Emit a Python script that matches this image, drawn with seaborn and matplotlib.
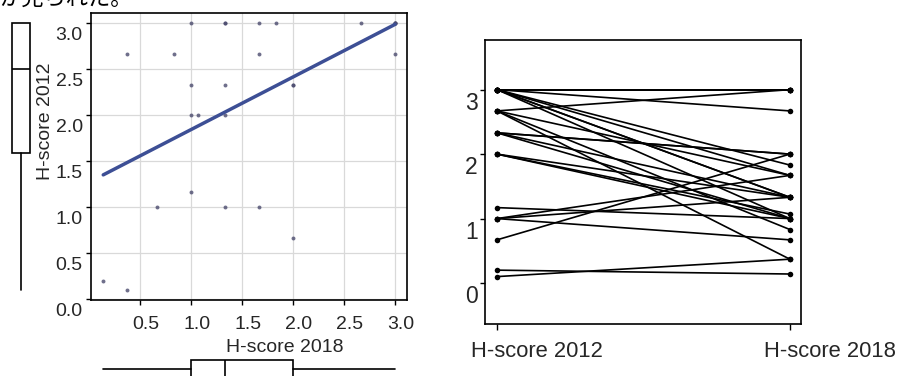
import numpy as np
import pandas as pd
import seaborn as sns
import matplotlib
matplotlib.use("Agg")
import matplotlib.pyplot as plt
from matplotlib.transforms import ScaledTranslation

# H-score pro Patient (gepaart): 2018 auf x, 2012 auf y
h2018 = [0.14, 0.37, 0.37, 0.67, 0.83, 1.0, 1.0, 1.0, 1.0, 1.07,
         1.33, 1.33, 1.33, 1.33, 1.33, 1.67, 1.67, 1.67, 1.83,
         2.0, 2.0, 2.0, 2.67, 3.0, 3.0, 3.0, 3.0, 3.0]
h2012 = [0.2, 0.1, 2.67, 1.0, 2.67, 3.0, 2.33, 2.0, 1.17, 2.0,
         3.0, 3.0, 2.33, 2.0, 1.0, 3.0, 2.67, 1.0, 3.0,
         2.33, 2.33, 0.67, 3.0, 3.0, 3.0, 3.0, 3.0, 2.67]
jahre = ["H-score 2012", "H-score 2018"]
xticks_links = [0.5, 1.0, 1.5, 2.0, 2.5, 3.0]
yticks_links = [0.0, 0.5, 1.0, 1.5, 2.0, 2.5, 3.0]
yticks_rechts = [0, 1, 2, 3]
satz_oben = "が見られた。"

sns.set_style("white")
plt.rcParams["font.family"] = ["Liberation Sans", "Noto Sans CJK JP", "DejaVu Sans"]

DPI = 100
W, H = 902, 376
fig = plt.figure(figsize=(W / DPI, H / DPI), dpi=DPI)


def px_axes(x0, y0, x1, y1):
    # Achsen in Pixelkoordinaten (oben links = 0,0)
    return fig.add_axes([x0 / W, 1 - y1 / H, (x1 - x0) / W, (y1 - y0) / H])


def verschieben(labels, dx, dy):
    off = ScaledTranslation(dx / DPI, -dy / DPI, fig.dpi_scale_trans)
    for lbl in labels:
        lbl.set_transform(lbl.get_transform() + off)


def tukey_stats(werte):
    v = np.sort(np.asarray(werte))
    n = len(v)
    q1 = np.median(v[:(n + 1) // 2])
    q3 = np.median(v[n // 2:])
    iqr = q3 - q1
    lo = v[v >= q1 - 1.5 * iqr].min()
    hi = v[v <= q3 + 1.5 * iqr].max()
    return dict(med=np.median(v), q1=q1, q3=q3, whislo=lo, whishi=hi, fliers=[])


# ---- Streudiagramm mit Regressionsgerade
ax1 = px_axes(90.7, 13.3, 406.7, 300)
sns.regplot(x=h2018, y=h2012, ax=ax1, ci=None,
            scatter_kws=dict(s=8, color="#4b4b6e", linewidths=0),
            line_kws=dict(color="#3d4f95", lw=2.5))
ax1.set_xlim(0.017, 3.115)
ax1.set_ylim(-0.008, 3.109)
ax1.set_xticks(xticks_links)
ax1.set_yticks(yticks_links)
ax1.set_xticklabels([f"{t:.1f}" for t in xticks_links])
ax1.set_yticklabels([f"{t:.1f}" for t in yticks_links])
ax1.grid(True, color="#d9d9d9", lw=0.9)
ax1.set_axisbelow(True)
for s in ax1.spines.values():
    s.set_color("black")
    s.set_linewidth(1.2)
ax1.tick_params(axis="both", direction="out", length=3.3, width=1, color="black",
                labelsize=14, bottom=True, left=True)
ax1.tick_params(axis="y", pad=2.5)
ax1.tick_params(axis="x", pad=8)
verschieben(ax1.get_yticklabels(), 0, 10)
verschieben(ax1.get_xticklabels(), 6, 0)
ax1.set_xlabel("H-score 2018", fontsize=14, va="center")
ax1.set_ylabel("H-score 2012", fontsize=14, va="center")
ax1.xaxis.set_label_coords(0.615, -0.167)
ax1.yaxis.set_label_coords(-0.143, 0.624)

# ---- Randboxplots (Tukey-Hinges)
box_stil = dict(showcaps=False, showfliers=False, patch_artist=True,
                boxprops=dict(facecolor="white", edgecolor="black", lw=1.2),
                whiskerprops=dict(color="black", lw=1.2),
                medianprops=dict(color="black", lw=1.2))

ax_l = px_axes(0, 13.3, 42, 300)
ax_l.bxp([tukey_stats(h2012)], positions=[0.5], widths=[18.3 / 42], **box_stil)
ax_l.set_xlim(0, 1)
ax_l.set_ylim(ax1.get_ylim())
ax_l.axis("off")

ax_u = px_axes(90.7, 349.3, 406.7, 389.3)
ax_u.bxp([tukey_stats(h2018)], positions=[0.5], widths=[18.6 / 40],
         orientation="horizontal", **box_stil)
ax_u.set_ylim(1, 0)
ax_u.set_xlim(ax1.get_xlim())
ax_u.axis("off")

# ---- Verlauf je Patient
lang = pd.DataFrame({
    "id": list(range(len(h2012))) * 2,
    "jahr": [jahre[0]] * len(h2012) + [jahre[1]] * len(h2018),
    "wert": h2012 + h2018,
})
ax2 = px_axes(485, 40, 801, 324.3)
sns.lineplot(data=lang, x="jahr", y="wert", units="id", estimator=None, ax=ax2,
             color="black", lw=1.2, marker="o", markersize=4, markeredgewidth=0)
ax2.set_xlim(-0.041, 1.038)
ax2.set_ylim(-0.64, 3.77)
ax2.set_yticks(yticks_rechts)
ax2.set_xticks([0, 1])
ax2.set_xticklabels(jahre)
ax2.set_xlabel("")
ax2.set_ylabel("")
for s in ax2.spines.values():
    s.set_color("black")
    s.set_linewidth(1.2)
ax2.tick_params(axis="both", direction="out", color="black", width=1,
                bottom=True, left=True)
ax2.tick_params(axis="y", length=3.6, pad=1.5, labelsize=16.5)
ax2.tick_params(axis="x", length=4.3, pad=8, labelsize=15.8)
verschieben(ax2.get_yticklabels(), 0, 11)
verschieben(ax2.get_xticklabels(), 40, 0)

# abgeschnittener Satz oben links
fig.text(0.0, 1 - 6 / H, satz_oben, fontsize=16, va="baseline",
         family=["Noto Sans CJK JP", "DejaVu Sans"], color="black")

fig.savefig("out.png", dpi=DPI)
